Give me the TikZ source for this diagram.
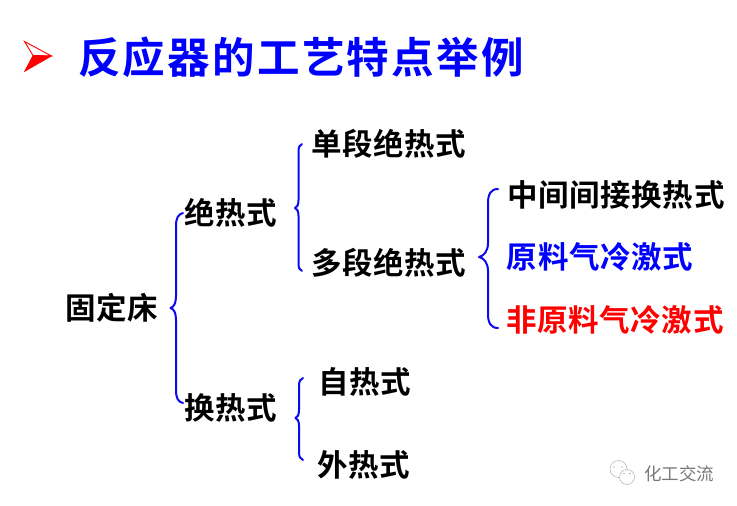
\documentclass[tikz,border=0pt]{standalone}
\usepackage{fontspec}
\setmainfont{Noto Sans CJK SC}[BoldFont={Noto Sans CJK SC Bold}]
\definecolor{tblue}{RGB}{0,0,255}
\definecolor{bblue}{RGB}{10,10,240}
\definecolor{wm}{RGB}{120,120,120}
\tikzset{
  lbl/.style={inner sep=0pt,anchor=center,font=\fontsize{30.5}{33}\selectfont\bfseries\addfontfeature{LetterSpace=2}},
  bracepath/.style={draw=bblue,line width=2pt,line cap=round,line join=round},
  wmline/.style={draw=wm!70,line width=0.5pt,fill=white}
}
\begin{document}
\begin{tikzpicture}[x=1pt,y=-1pt]
\useasboundingbox (0,0) rectangle (737,506);
% title marker
\coordinate (mtop) at (24.5,41.5);
\coordinate (mtip) at (51.5,56);
\coordinate (mbot) at (24.5,71.5);
\coordinate (mnot) at (33,55.5);
\draw[red,line width=0.9pt,fill=white,line join=miter] (mtop) -- (mtip) -- (mnot) -- cycle;
\draw[red,line width=0.6pt,fill=red,line join=miter] (mnot) -- (mtip) -- (mbot) -- cycle;
\node[inner sep=0pt,text=tblue,font=\fontsize{42.5}{45}\selectfont\bfseries\addfontfeature{LetterSpace=5.4}] (title) at (301,57.5)
  {反应器的工艺特点举例};
% nodes
\node[lbl] (root) at (112,308) {固定床};
\node[lbl] (jr) at (231,212.5) {绝热式};
\node[lbl] (hr) at (231,408) {换热式};
\node[lbl] (dd) at (389,144) {单段绝热式};
\node[lbl] (md) at (389,263) {多段绝热式};
\node[lbl] (zr) at (365,382) {自热式};
\node[lbl] (wr) at (364,465) {外热式};
\node[lbl] (zj) at (616,195) {中间间接换热式};
\node[lbl,text=tblue] (yl) at (600,257) {原料气冷激式};
\node[lbl,text=red] (fy) at (615,320) {非原料气冷激式};
% braces
\coordinate (b1t) at (183,213); \coordinate (b1m) at (170.5,308); \coordinate (b1b) at (183,403);
\coordinate (b2t) at (302,144); \coordinate (b2m) at (295,208); \coordinate (b2b) at (302,271);
\coordinate (b3t) at (498,189); \coordinate (b3m) at (479,257); \coordinate (b3b) at (498,328);
\coordinate (b4t) at (303,378); \coordinate (b4m) at (295.5,418); \coordinate (b4b) at (303,460);
\draw[bracepath] (b1t) .. controls (178,214.5) and (176,218) .. (176,226) -- (176,296)
  .. controls (176,303) and (174,307) .. (b1m) .. controls (174,309) and (176,313) .. (176,320)
  -- (176,390) .. controls (176,398) and (178,402) .. (b1b);
\draw[bracepath] (b2t) .. controls (299.5,145) and (298.5,147) .. (298.5,152) -- (298.5,200)
  .. controls (298.5,205) and (297,207.5) .. (b2m) .. controls (297,208.5) and (298.5,211) .. (298.5,216)
  -- (298.5,263) .. controls (298.5,268) and (299.5,270) .. (b2b);
\draw[bracepath] (b3t) .. controls (491,189) and (488,194) .. (488,203) -- (488,243)
  .. controls (488,251) and (484,256) .. (b3m) .. controls (484,258) and (488,263) .. (488,271)
  -- (488,314) .. controls (488,323) and (491,328) .. (b3b);
\draw[bracepath] (b4t) .. controls (300.5,379) and (299,381) .. (299,386) -- (299,410)
  .. controls (299,415) and (297.5,417.5) .. (b4m) .. controls (297.5,418.5) and (299,421) .. (299,426)
  -- (299,452) .. controls (299,457) and (300.5,459) .. (b4b);
% watermark
\node[wmline,circle,minimum size=17pt,inner sep=0pt,draw=wm!60] (wa) at (618.5,469) {};
\node[wmline,circle,minimum size=15pt,inner sep=0pt,draw=wm!60] (wb) at (627,477) {};
\fill[wm] (614,467) circle (0.7pt) (622,467) circle (0.7pt) (624,473.5) circle (0.6pt) (630,473.5) circle (0.6pt);
\node[inner sep=0pt,text=wm,font=\fontsize{17.5}{19}\selectfont] (wt) at (679,474) {化工交流};
\end{tikzpicture}
\end{document}
